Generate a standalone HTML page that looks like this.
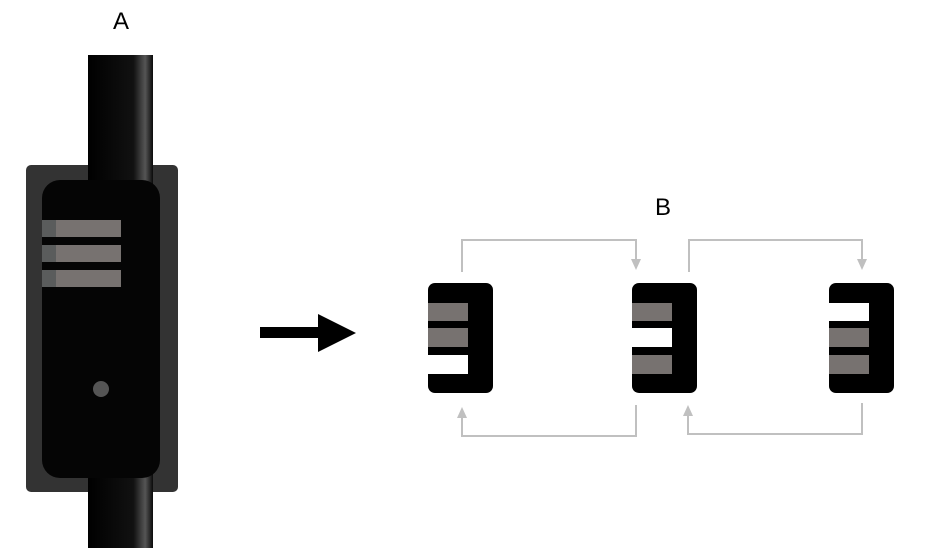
<!DOCTYPE html>
<html><head><style>body{margin:0;background:#fff;width:933px;height:548px;overflow:hidden}</style></head><body>
<svg width="933" height="548" xmlns="http://www.w3.org/2000/svg">
<defs>
<linearGradient id="cab" x1="0" x2="1" y1="0" y2="0">
<stop offset="0" stop-color="#000"/><stop offset="0.7" stop-color="#111"/><stop offset="0.88" stop-color="#555"/><stop offset="1" stop-color="#0a0a0a"/>
</linearGradient>
</defs>
<text x="121" y="29" font-family="Liberation Sans, sans-serif" font-size="24" text-anchor="middle">A</text>
<text x="663" y="215" font-family="Liberation Sans, sans-serif" font-size="24" text-anchor="middle">B</text>
<rect x="26" y="165" width="152" height="327" rx="5" fill="#333"/>
<rect x="88" y="55" width="65" height="493" fill="url(#cab)"/>
<rect x="42" y="180" width="118" height="298" rx="18" fill="#050505"/>
<g fill="#777270"><rect x="42" y="220" width="79" height="17"/><rect x="42" y="245" width="79" height="17"/><rect x="42" y="270" width="79" height="17"/></g>
<g fill="#5a5c5c"><rect x="42" y="220" width="14" height="17"/><rect x="42" y="245" width="14" height="17"/><rect x="42" y="270" width="14" height="17"/></g>
<circle cx="101" cy="389" r="8" fill="#555"/>
<rect x="260" y="327" width="62" height="11" fill="#000"/>
<polygon points="318,314 356,333 318,352" fill="#000"/>
<g fill="none" stroke="#c0c0c0" stroke-width="2">
<polyline points="462,272 462,240 636,240 636,262"/>
<polyline points="636,405 636,436 462,436 462,418"/>
<polyline points="689,272 689,240 862,240 862,262"/>
<polyline points="862,403 862,434 688,434 688,416"/>
</g>
<g fill="#c0c0c0">
<polygon points="631,259 641,259 636,270"/>
<polygon points="457,418 467,418 462,407"/>
<polygon points="857,259 867,259 862,270"/>
<polygon points="683,416 693,416 688,405"/>
</g>
<rect x="428" y="283" width="65" height="110" rx="7" fill="#000"/>
<rect x="428" y="303" width="40" height="18" fill="#777270"/>
<rect x="428" y="328" width="40" height="19" fill="#777270"/>
<rect x="428" y="355" width="40" height="19" fill="#fff"/>
<rect x="632" y="283" width="65" height="110" rx="7" fill="#000"/>
<rect x="632" y="303" width="40" height="18" fill="#777270"/>
<rect x="632" y="328" width="40" height="19" fill="#fff"/>
<rect x="632" y="355" width="40" height="19" fill="#777270"/>
<rect x="829" y="283" width="65" height="110" rx="7" fill="#000"/>
<rect x="829" y="303" width="40" height="18" fill="#fff"/>
<rect x="829" y="328" width="40" height="19" fill="#777270"/>
<rect x="829" y="355" width="40" height="19" fill="#777270"/>
</svg>
</body></html>
